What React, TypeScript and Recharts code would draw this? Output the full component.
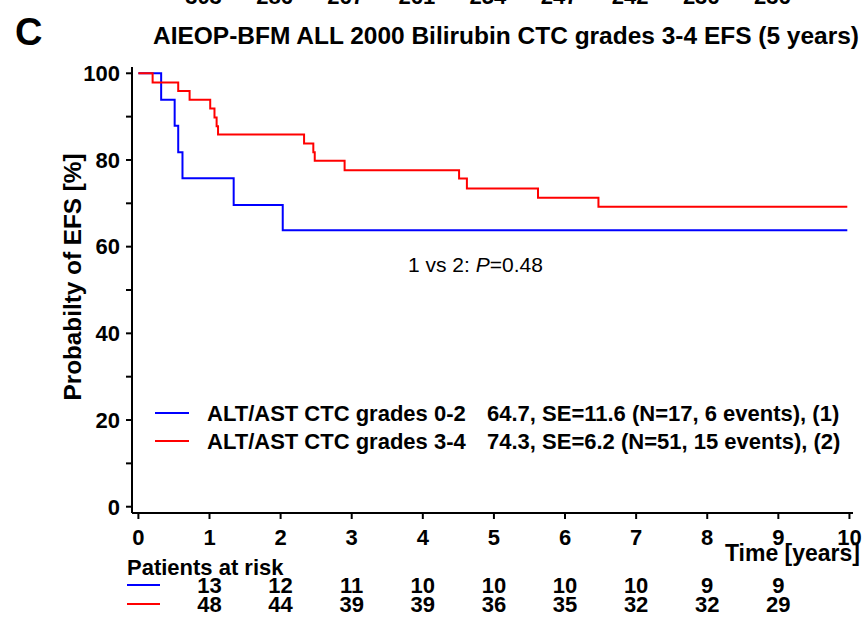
import React from "react";
import { LineChart, Line, XAxis, YAxis } from "recharts";

// ---- data ----
const blueTimes = [0, 0.32, 0.51, 0.56, 0.62, 1.34, 2.03, 9.97];
const blueSurv = [100, 93.9, 87.9, 81.8, 75.8, 69.6, 63.8, 63.8];
const redTimes = [0, 0.2, 0.56, 0.72, 1.01, 1.07, 1.1, 1.12, 2.33, 2.46, 2.48, 2.9, 4.51, 4.62, 5.62, 6.47, 9.97];
const redSurv = [100, 97.9, 95.9, 93.9, 91.9, 89.8, 87.8, 85.9, 83.8, 81.8, 79.8, 77.6, 75.7, 73.4, 71.3, 69.2, 69.2];
const xTicks = [0, 1, 2, 3, 4, 5, 6, 7, 8, 9, 10];
const yTicks = [0, 10, 20, 30, 40, 50, 60, 70, 80, 90, 100];
const riskTimes = [1, 2, 3, 4, 5, 6, 7, 8, 9];
const riskBlue = [13, 12, 11, 10, 10, 10, 10, 9, 9];
const riskRed = [48, 44, 39, 39, 36, 35, 32, 32, 29];
const prevPanelRisk = [303, 286, 267, 261, 254, 247, 242, 236, 236];
const legendNames = ["ALT/AST CTC grades 0-2", "ALT/AST CTC grades 3-4"];
const legendStats = ["64.7, SE=11.6 (N=17, 6 events), (1)", "74.3, SE=6.2 (N=51, 15 events), (2)"];
const colors = ["#0000ff", "#ff0000"];

const blueData = blueTimes.map((t, i) => ({ t, s: blueSurv[i] }));
const redData = redTimes.map((t, i) => ({ t, s: redSurv[i] }));

const W = 863;
const H = 621;
const PLOT_L = 132;
const PLOT_R = 853;
const PLOT_T = 67;
const PLOT_B = 513;
const X_DOMAIN: [number, number] = [-0.09, 10.05];
const Y_DOMAIN: [number, number] = [-1.45, 101.45];
const FONT = "'Liberation Sans', Arial, sans-serif";

const xScale = (t: number) =>
  PLOT_L + ((t - X_DOMAIN[0]) / (X_DOMAIN[1] - X_DOMAIN[0])) * (PLOT_R - PLOT_L);

const tickStyle = { fontSize: 22, fontWeight: 700, fill: "#000", fontFamily: FONT };

export default function App() {
  return (
    <div style={{ position: "absolute", left: 0, top: 0, width: W, height: H, background: "#fff" }}>
      <LineChart
        width={W}
        height={H}
        margin={{ top: PLOT_T, right: W - PLOT_R, bottom: H - PLOT_B - 40, left: 0 }}
      >
        <XAxis
          type="number"
          dataKey="t"
          domain={X_DOMAIN}
          ticks={xTicks}
          allowDataOverflow
          height={40}
          tickSize={6}
          tickMargin={10}
          axisLine={{ stroke: "#000", strokeWidth: 2 }}
          tickLine={{ stroke: "#000", strokeWidth: 2 }}
          tick={tickStyle}
          interval={0}
        />
        <YAxis
          type="number"
          domain={Y_DOMAIN}
          ticks={yTicks}
          allowDataOverflow
          width={PLOT_L}
          tickSize={6}
          tickMargin={6}
          axisLine={{ stroke: "#000", strokeWidth: 2 }}
          tickLine={{ stroke: "#000", strokeWidth: 2 }}
          tick={tickStyle}
          interval={0}
          tickFormatter={(v: number) => (v % 20 === 0 ? String(v) : "")}
        />
        <Line
          data={blueData}
          dataKey="s"
          type="stepAfter"
          stroke={colors[0]}
          strokeWidth={2}
          dot={false}
          isAnimationActive={false}
        />
        <Line
          data={redData}
          dataKey="s"
          type="stepAfter"
          stroke={colors[1]}
          strokeWidth={2}
          dot={false}
          isAnimationActive={false}
        />
      </LineChart>
      <svg
        width={W}
        height={H}
        style={{ position: "absolute", left: 0, top: 0, pointerEvents: "none" }}
        fontFamily={FONT}
      >
        {prevPanelRisk.map((n, i) => (
          <text key={"p" + i} x={xScale(riskTimes[i]) - 6} y={4} fontSize={22} fontWeight={700} textAnchor="middle">
            {n}
          </text>
        ))}
        <text x={15} y={45} fontSize={38} fontWeight={700}>C</text>
        <text x={153} y={44} fontSize={23} fontWeight={700} textLength={706} lengthAdjust="spacingAndGlyphs">
          AIEOP-BFM ALL 2000 Bilirubin CTC grades 3-4 EFS (5 years)
        </text>
        <text
          transform="translate(81,277) rotate(-90)"
          fontSize={23}
          fontWeight={700}
          textAnchor="middle"
          textLength={247}
          lengthAdjust="spacingAndGlyphs"
        >
          Probabilty of EFS [%]
        </text>
        <text x={408} y={272} fontSize={21}>
          1 vs 2: <tspan fontStyle="italic">P</tspan>=0.48
        </text>
        {legendNames.map((name, i) => (
          <g key={"l" + i}>
            <line x1={155} x2={189} y1={413 + i * 28} y2={413 + i * 28} stroke={colors[i]} strokeWidth={2} />
            <text x={207} y={421 + i * 28} fontSize={22} fontWeight={700}>{name}</text>
            <text x={487} y={421 + i * 28} fontSize={22} fontWeight={700}>{legendStats[i]}</text>
          </g>
        ))}
        <text x={860} y={561} fontSize={23} fontWeight={700} textAnchor="end">Time [years]</text>
        <text x={127} y={575} fontSize={22} fontWeight={700}>Patients at risk</text>
        <line x1={127} x2={160} y1={585} y2={585} stroke={colors[0]} strokeWidth={2} />
        <line x1={127} x2={160} y1={604} y2={604} stroke={colors[1]} strokeWidth={2} />
        {riskTimes.map((t, i) => (
          <g key={"r" + i}>
            <text x={xScale(t)} y={593} fontSize={22} fontWeight={700} textAnchor="middle">{riskBlue[i]}</text>
            <text x={xScale(t)} y={612} fontSize={22} fontWeight={700} textAnchor="middle">{riskRed[i]}</text>
          </g>
        ))}
      </svg>
    </div>
  );
}
